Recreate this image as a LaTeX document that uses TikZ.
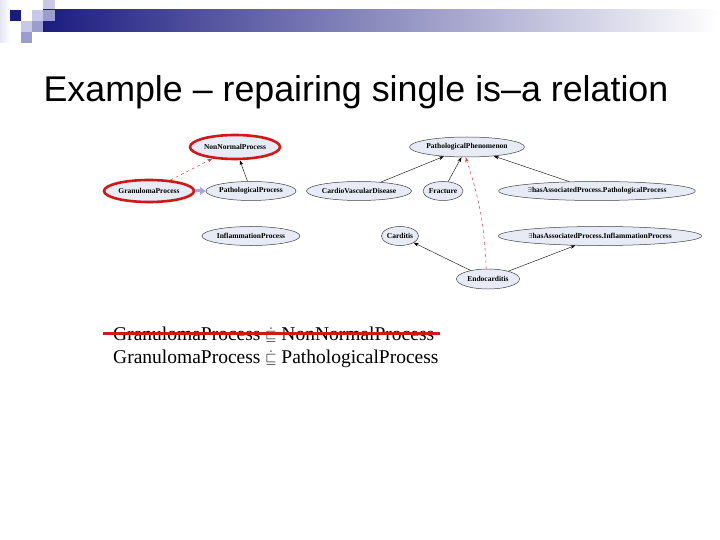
\documentclass[tikz,border=0pt]{standalone}
\usepackage{fontspec}
\setmainfont{Liberation Serif}
\setsansfont{Liberation Sans}
\usetikzlibrary{arrows.meta,shapes.geometric}
\definecolor{navy}{HTML}{1C1C80}
\definecolor{lav}{HTML}{C8C8E8}
\definecolor{lavmid}{HTML}{9C9CD0}
\definecolor{lavpale}{HTML}{E6E6F3}
\definecolor{nodefill}{HTML}{E6EBF5}
\definecolor{hired}{HTML}{D01818}
\definecolor{dashred}{HTML}{D04848}
\definecolor{isaarrow}{HTML}{A4A4EC}
\newcommand{\isadot}{{\fontsize{15}{15}\selectfont$\smash{\dot{\sqsubseteq}}$}}

\begin{document}
\begin{tikzpicture}[x=1pt,y=-1pt,>={Stealth[length=5pt,width=3.6pt]},
 cls/.style={ellipse,draw=black!75,line width=.5pt,fill=nodefill,inner sep=0pt,
   minimum height=19pt,font=\bfseries\fontsize{7.5}{9}\selectfont},
 bad/.style={cls,draw=hired,line width=2.6pt},
 inf/.style={->,dashred,dashed,line width=.5pt},
 strike/.style={hired,line width=3pt}]
 \useasboundingbox (0,0) rectangle (720,540);
 % slide header
 \shade[left color=lavpale,right color=white] (0,0) rectangle (10,43);
 \fill[navy] (10,10) rectangle (21,21);
 \fill[lav] (32,10) rectangle (43,21);
 \fill[lav] (43,0) rectangle (55,10);
 \fill[lav] (21,21) rectangle (32,32);
 \fill[lavmid] (32,21) rectangle (43,32);
 \fill[lavmid] (21,32) rectangle (32,43);
 \shade[left color=navy,right color=white] (43,10) rectangle (720,32);
 \fill[lavmid] (43,10) rectangle (55,21);
 \node[font=\sffamily\fontsize{35.8}{42}\selectfont,anchor=base] (title) at (356,102)
   {Example – repairing single is–a relation};
 % taxonomy
 \node[bad,minimum width=90pt,minimum height=24pt] (nonnormal) at (235,147) {NonNormalProcess};
 \node[cls,minimum width=113pt,minimum height=20pt] (phenom) at (467,147) {PathologicalPhenomenon};
 \node[bad,minimum width=90pt,minimum height=22pt] (granuloma) at (149,191) {GranulomaProcess};
 \node[cls,minimum width=90pt] (pathproc) at (251,191) {PathologicalProcess};
 \node[cls,minimum width=102pt] (cardiovasc) at (359,191) {CardioVascularDisease};
 \node[cls,minimum width=40pt] (fracture) at (443,191) {Fracture};
 \node[cls,minimum width=185pt] (hasproc) at (597,191) {$\exists$hasAssociatedProcess.PathologicalProcess};
 \node[cls,minimum width=98pt] (inflam) at (251,236) {InflammationProcess};
 \node[cls,minimum width=35pt] (carditis) at (400,236) {Carditis};
 \node[cls,minimum width=188pt] (hasinfl) at (600,236) {$\exists$hasAssociatedProcess.InflammationProcess};
 \node[cls,minimum width=63pt,minimum height=20pt] (endo) at (488,279) {Endocarditis};
 \draw[->] (pathproc) -- (nonnormal);
 \draw[inf] (granuloma) -- (nonnormal);
 \draw[-{Triangle[length=6pt,width=8pt]},isaarrow,line width=3pt] (granuloma) -- (pathproc);
 \draw[->] (cardiovasc) -- (phenom);
 \draw[->] (fracture) -- (phenom);
 \draw[->] (hasproc) -- (phenom);
 \draw[->] (endo) -- (carditis);
 \draw[->] (endo) -- (hasinfl);
 \draw[inf] (endo.100) to[bend right=8] (phenom.262);
 % axioms
 \node[anchor=base west,inner sep=0pt,font=\fontsize{19.5}{21}\selectfont] (ax1) at (113,340)
   {GranulomaProcess \isadot{} NonNormalProcess};
 \node[anchor=base west,inner sep=0pt,font=\fontsize{19.5}{21}\selectfont] (ax2) at (113,363)
   {GranulomaProcess \isadot{} PathologicalProcess};
 \draw[strike] ([xshift=-10pt,yshift=7pt]ax1.base west) -- ([xshift=6pt,yshift=7pt]ax1.base east);
\end{tikzpicture}
\end{document}
